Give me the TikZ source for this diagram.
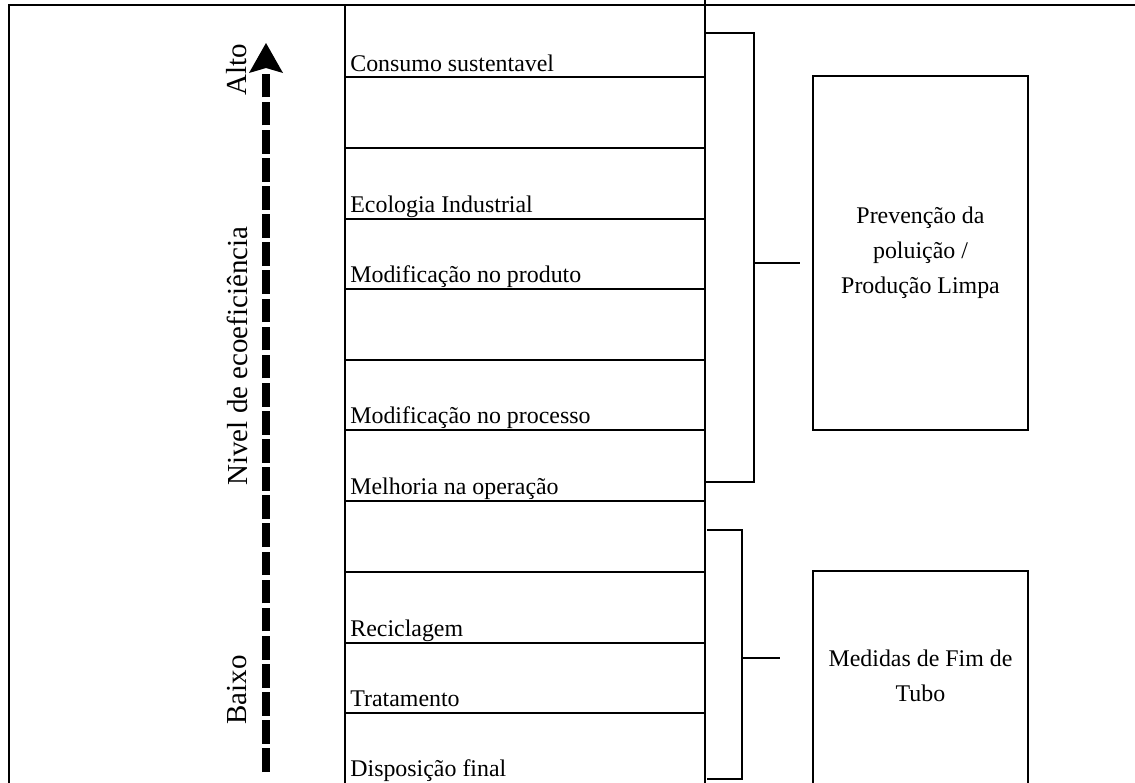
\documentclass[tikz,border=0pt]{standalone}
\usepackage{fontspec}
\setmainfont{Liberation Serif}
\usetikzlibrary{arrows.meta}
\begin{document}
\begin{tikzpicture}[x=0.02cm,y=-0.02cm,
  rowtext/.style={anchor=base west,inner sep=0pt,font=\fontsize{13.6}{16}\selectfont},
  sidetext/.style={rotate=90,inner sep=0pt,font=\fontsize{16.5}{19}\selectfont},
  groupbox/.style={draw,line width=1.1pt,align=center,font=\fontsize{13.6}{19.8}\selectfont},
  colline/.style={line width=1pt},
  rowline/.style={line width=0.6pt},
  bracket/.style={line width=1.3pt},
  ecoarrow/.style={line width=4pt,dash pattern=on 13.5pt off 2.5pt}]
\useasboundingbox (0,0) rectangle (1135,782);

% outer frame
\draw[line width=1.6pt] (9,800) -- (9,5) -- (1140,5);

% the column of options
\draw[colline] (345,5) -- (345,790);
\draw[colline] (705,-5) -- (705,790);
\foreach \yy in {77,148,219,289,360,430,501,572,643,713}
  \draw[rowline] (345,\yy) -- (705,\yy);

\node[rowtext] (cs) at (350,71) {Consumo sustentavel};
\node[rowtext] (ei) at (350,212) {Ecologia Industrial};
\node[rowtext] (mp) at (350,282) {Modificação no produto};
\node[rowtext] (mpr) at (350,423) {Modificação no processo};
\node[rowtext] (mo) at (350,494) {Melhoria na operação};
\node[rowtext] (rc) at (350,636) {Reciclagem};
\node[rowtext] (tr) at (350,706) {Tratamento};
\node[rowtext] (df) at (350,776) {Disposição final};

% level arrow with its labels
\coordinate (lo) at (266,772);
\coordinate (hi) at (266,70);
\draw[ecoarrow] (lo) -- (hi);
\coordinate (tip) at (266,43);
\fill (tip) -- (283,73) -- (266,68) -- (249,73) -- cycle;
\node[sidetext] (alto) at (237,70) {Alto};
\node[sidetext] (nivel) at (237,356) {Nivel de ecoeficiência};
\node[sidetext] (baixo) at (237,690) {Baixo};

% group boxes
\node[groupbox,minimum width=215*0.02cm,minimum height=354*0.02cm] (pp) at (920.5,253)
  {Prevenção da\\poluição /\\Produção Limpa};
\draw[line width=1.1pt] (813,800) -- (813,571) -- (1028,571) -- (1028,800);
\node[align=center,font=\fontsize{13.6}{19.8}\selectfont] (ft) at (920.5,676)
  {Medidas de Fim de\\Tubo};

% brackets
\draw[bracket] (705,33) -- (754,33) -- (754,482) -- (705,482);
\draw[bracket] (754,263) -- (800,263);
\draw[bracket] (707,530) -- (742,530) -- (742,779) -- (707,779);
\draw[bracket] (742,658) -- (780,658);
\end{tikzpicture}
\end{document}
